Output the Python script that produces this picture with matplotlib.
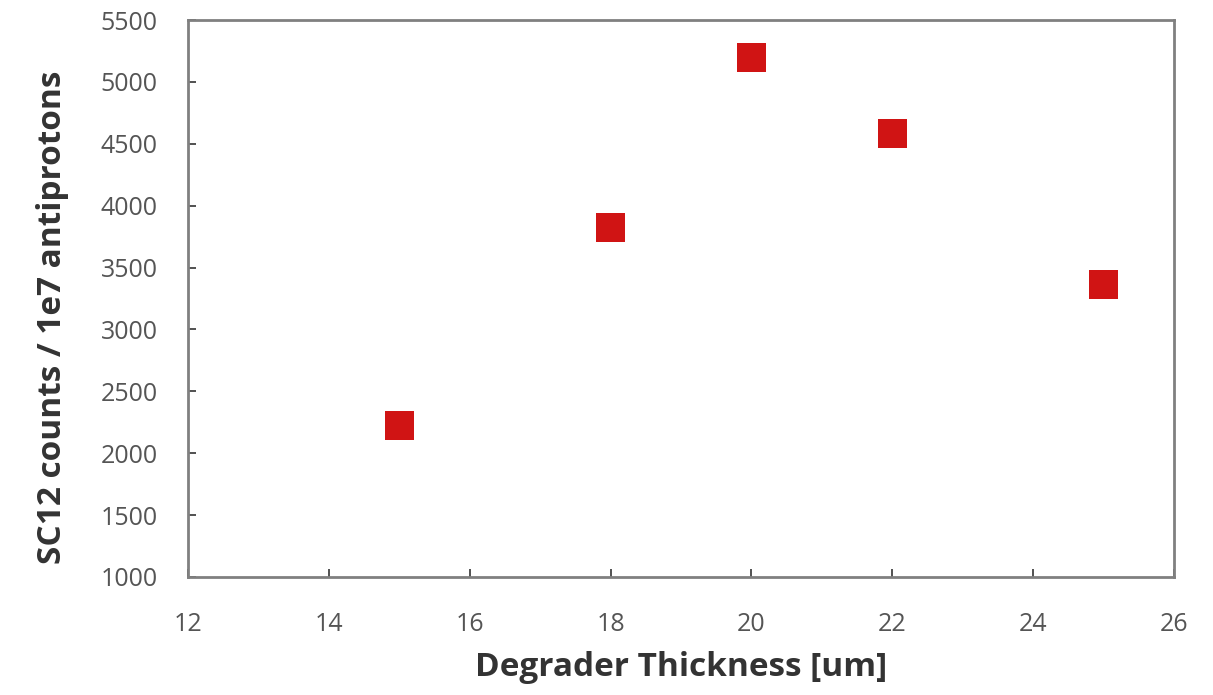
import matplotlib.pyplot as plt

# degrader thickness vs SC12 counts
thickness = [15, 18, 20, 22, 25]
counts = [2228, 3820, 5200, 4585, 3360]

xticks = [12, 14, 16, 18, 20, 22, 24, 26]
yticks = [1000, 1500, 2000, 2500, 3000, 3500, 4000, 4500, 5000, 5500]

plt.rcParams['font.family'] = ['Open Sans', 'DejaVu Sans']

fig = plt.figure(figsize=(12.13, 6.95), dpi=100)
ax = fig.add_axes([188/1213, 1 - 577/695, (1174-188)/1213, (577-20)/695])

# square side ~29 px
msize = 29 * 72 / 100
ax.scatter(thickness, counts, marker='s', s=msize**2, color='#d01414',
           edgecolors='none', zorder=3)

ax.set_xlim(12, 26)
ax.set_ylim(1000, 5500)
ax.set_xticks(xticks)
ax.set_yticks(yticks)

for s in ax.spines.values():
    s.set_color('#808080')
    s.set_linewidth(2)

ax.tick_params(direction='in', length=6, width=1.2, color='#333333',
               labelsize=18, labelcolor='#555555')
ax.tick_params(axis='x', pad=25)
ax.tick_params(axis='y', pad=22)

ax.set_xlabel('Degrader Thickness [um]', fontsize=24, fontweight='bold',
              color='#333333', labelpad=10)
ax.set_ylabel('SC12 counts / 1e7 antiprotons', fontsize=24, fontweight='bold',
              color='#333333')
ax.yaxis.set_label_coords(-0.1207, 0.4668)

fig.savefig('out.png', dpi=100)
